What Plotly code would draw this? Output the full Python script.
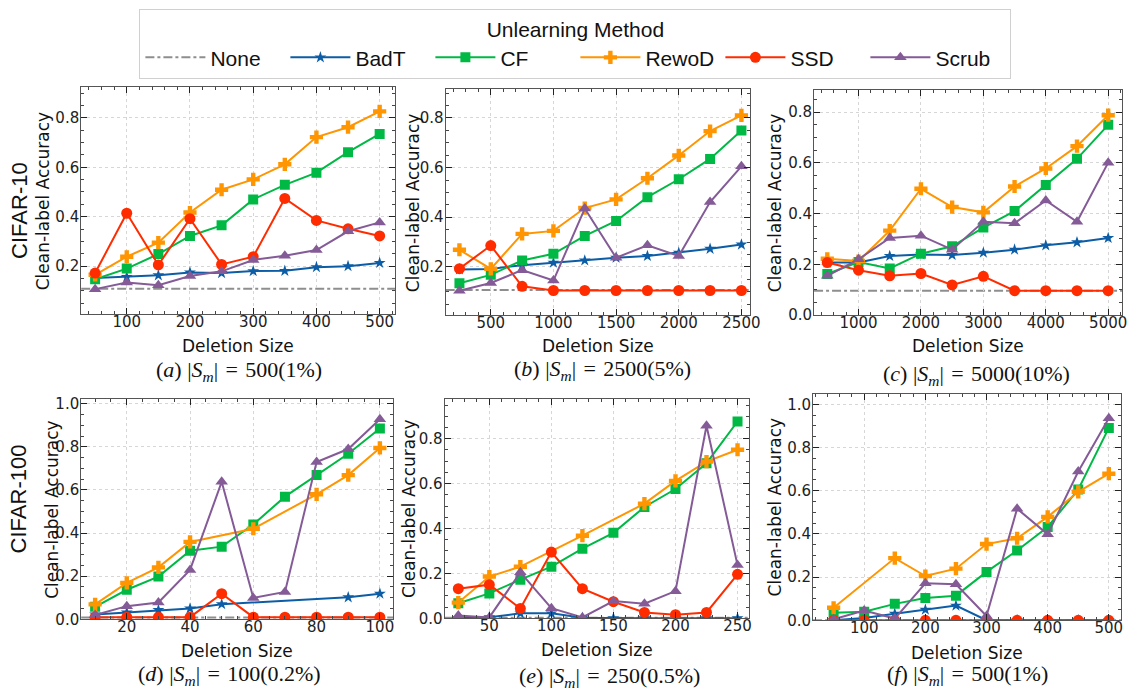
import plotly.graph_objects as go
from plotly.subplots import make_subplots

# ---------------- data ----------------
METHODS = ["BadT", "CF", "RewoD", "SSD", "Scrub"]

# (a) CIFAR-10, |S_m| = 500
A_X = [50, 100, 150, 200, 250, 300, 350, 400, 450, 500]
A_BADT = [0.152, 0.156, 0.163, 0.174, 0.172, 0.180, 0.181, 0.196, 0.200, 0.213]
A_CF = [0.147, 0.190, 0.249, 0.322, 0.365, 0.470, 0.529, 0.578, 0.661, 0.735]
A_REWOD = [0.165, 0.238, 0.295, 0.417, 0.509, 0.551, 0.612, 0.722, 0.762, 0.826]
A_SSD = [0.172, 0.414, 0.205, 0.392, 0.207, 0.238, 0.474, 0.385, 0.351, 0.322]
A_SCRUB = [0.107, 0.134, 0.123, 0.160, 0.179, 0.225, 0.242, 0.265, 0.341, 0.377]
A_NONE = 0.109

# (b) CIFAR-10, |S_m| = 2500
B_X = [250, 500, 750, 1000, 1250, 1500, 1750, 2000, 2250, 2500]
B_BADT = [0.190, 0.192, 0.207, 0.217, 0.226, 0.237, 0.244, 0.257, 0.273, 0.290]
B_CF = [0.134, 0.168, 0.226, 0.253, 0.325, 0.385, 0.481, 0.553, 0.635, 0.749]
B_REWOD = [0.269, 0.192, 0.333, 0.345, 0.437, 0.472, 0.557, 0.649, 0.747, 0.810]
B_SSD = [0.193, 0.286, 0.122, 0.105, 0.105, 0.105, 0.105, 0.105, 0.105, 0.105]
B_SCRUB = [0.104, 0.135, 0.187, 0.145, 0.435, 0.237, 0.287, 0.244, 0.461, 0.605]
B_NONE = 0.107

# (c) CIFAR-10, |S_m| = 5000
C_X = [500, 1000, 1500, 2000, 2500, 3000, 3500, 4000, 4500, 5000]
C_BADT = [0.207, 0.207, 0.233, 0.239, 0.237, 0.246, 0.258, 0.275, 0.287, 0.304]
C_CF = [0.162, 0.209, 0.184, 0.242, 0.271, 0.345, 0.410, 0.513, 0.616, 0.750]
C_REWOD = [0.222, 0.213, 0.333, 0.498, 0.426, 0.405, 0.507, 0.578, 0.666, 0.788]
C_SSD = [0.207, 0.177, 0.155, 0.164, 0.119, 0.153, 0.096, 0.096, 0.096, 0.096]
C_SCRUB = [0.155, 0.220, 0.304, 0.313, 0.258, 0.368, 0.362, 0.452, 0.368, 0.601]
C_NONE = 0.096

# (d) CIFAR-100, |S_m| = 100
D_X = [10, 20, 30, 40, 50, 60, 70, 80, 90, 100]
D_BADT = [0.022, 0.032, 0.043, 0.050, 0.070, None, None, None, 0.102, 0.119]
D_CF = [0.058, 0.137, 0.198, 0.318, 0.337, 0.440, 0.569, 0.669, 0.768, 0.885]
D_REWOD = [0.069, 0.169, 0.241, 0.359, None, 0.420, None, 0.580, 0.669, 0.795]
D_SSD = [0.010, 0.010, 0.010, 0.010, 0.119, 0.010, 0.010, 0.010, 0.010, 0.010]
D_SCRUB = [0.020, 0.061, 0.078, 0.229, 0.638, 0.099, 0.127, 0.730, 0.790, 0.928]
D_NONE = 0.008

# (e) CIFAR-100, |S_m| = 250
E_X = [25, 50, 75, 100, 125, 150, 175, 200, 225, 250]
E_BADT = [0.000, 0.005, 0.022, 0.022, 0.002, 0.000, 0.000, 0.000, 0.000, 0.000]
E_CF = [0.067, 0.111, 0.172, 0.230, 0.310, 0.381, 0.496, 0.576, 0.691, 0.877]
E_REWOD = [0.070, 0.186, 0.230, None, 0.368, None, 0.511, 0.612, 0.698, 0.751]
E_SSD = [0.132, 0.150, 0.044, 0.295, 0.132, 0.074, 0.026, 0.016, 0.026, 0.196]
E_SCRUB = [0.012, 0.004, 0.205, 0.045, 0.004, 0.077, 0.065, 0.121, 0.858, 0.237]
E_NONE = 0.002

# (f) CIFAR-100, |S_m| = 500
F_X = [50, 100, 150, 200, 250, 300, 350, 400, 450, 500]
F_BADT = [0.000, 0.010, 0.030, 0.049, 0.068, 0.000, 0.000, 0.000, 0.000, 0.000]
F_CF = [0.035, 0.040, 0.076, 0.103, 0.114, 0.224, 0.323, 0.432, 0.606, 0.891]
F_REWOD = [0.058, None, 0.288, 0.205, 0.239, 0.353, 0.380, 0.479, 0.595, 0.679]
F_SSD = [0.000, 0.000, 0.000, 0.000, 0.000, 0.000, 0.000, 0.000, 0.000, 0.000]
F_SCRUB = [0.005, 0.045, 0.008, 0.171, 0.167, 0.020, 0.517, 0.398, 0.689, 0.936]
F_NONE = 0.000

SP = "&#8196;"
CAPTIONS = [
    f"(<i>a</i>) |<i>S</i><sub><i>m</i></sub>|{SP}={SP}500(1%)",
    f"(<i>b</i>) |<i>S</i><sub><i>m</i></sub>|{SP}={SP}2500(5%)",
    f"(<i>c</i>) |<i>S</i><sub><i>m</i></sub>|{SP}={SP}5000(10%)",
    f"(<i>d</i>) |<i>S</i><sub><i>m</i></sub>|{SP}={SP}100(0.2%)",
    f"(<i>e</i>) |<i>S</i><sub><i>m</i></sub>|{SP}={SP}250(0.5%)",
    f"(<i>f</i>) |<i>S</i><sub><i>m</i></sub>|{SP}={SP}500(1%)",
]
ROW_LABELS = ["CIFAR-10", "CIFAR-100"]
X_TITLE = "Deletion Size"
Y_TITLE = "Clean-label Accuracy"

# ---------------- styling ----------------
W, H = 1139, 696
COLORS = {"BadT": "#0C5DA5", "CF": "#00B945", "RewoD": "#FF9500",
          "SSD": "#FF2C00", "Scrub": "#845B97"}
SYMBOLS = {"BadT": "star", "CF": "square", "RewoD": "cross",
           "SSD": "circle", "Scrub": "triangle-up"}
SIZES = {"BadT": 9, "CF": 10, "RewoD": 11, "SSD": 11, "Scrub": 11}
NONE_COLOR = "#8e8e8e"

panels = [
    (A_X, [A_BADT, A_CF, A_REWOD, A_SSD, A_SCRUB], A_NONE),
    (B_X, [B_BADT, B_CF, B_REWOD, B_SSD, B_SCRUB], B_NONE),
    (C_X, [C_BADT, C_CF, C_REWOD, C_SSD, C_SCRUB], C_NONE),
    (D_X, [D_BADT, D_CF, D_REWOD, D_SSD, D_SCRUB], D_NONE),
    (E_X, [E_BADT, E_CF, E_REWOD, E_SSD, E_SCRUB], E_NONE),
    (F_X, [F_BADT, F_CF, F_REWOD, F_SSD, F_SCRUB], F_NONE),
]

# pixel boxes (left, right, top, bottom)
boxes = [
    (82, 399, 85, 316),
    (450, 757, 87, 317),
    (822, 1133, 88, 317),
    (82, 397, 403, 627),
    (449, 756, 403, 626),
    (821, 1132, 397, 628),
]
xranges = [[28, 524.5], [140, 2566], [288, 5222], [5.6, 104.2], [14, 259], [16.4, 520]]
yranges = [[0.006, 0.923], [0.006, 0.915], [0, 0.886], [0, 1.02], [0, 0.975], [0, 1.05]]
xdticks = [100, 500, 1000, 20, 50, 100]
xminor = [20, 100, 200, 5, 10, 20]
ytitle_x = [43, 417, 782, 53, 413, 782]
xtitle_y = [348, 348, 348, 659, 658, 661]
cap_pos = [(241, 374), (608, 373), (986, 378), (232, 684), (615, 686), (977, 684)]

fig = make_subplots(rows=2, cols=3)

for i, (xs, series, none_val) in enumerate(panels):
    row, col = i // 3 + 1, i % 3 + 1
    for name, ys in zip(METHODS, series):
        fig.add_trace(go.Scatter(
            x=xs, y=ys, name=name, mode="lines+markers", connectgaps=True,
            legendgroup=name, showlegend=(i == 0), legendrank=2 + METHODS.index(name),
            line=dict(color=COLORS[name], width=2),
            marker=dict(symbol=SYMBOLS[name], size=SIZES[name], color=COLORS[name],
                        line=dict(width=0)),
        ), row=row, col=col)
    s = "" if i == 0 else str(i + 1)
    fig.add_shape(type="line", xref=f"x{s} domain", yref=f"y{s}", x0=0, x1=1,
                  y0=none_val, y1=none_val, layer="below",
                  line=dict(color=NONE_COLOR, width=2, dash="dashdot"))

# legend entry for "None"
fig.add_trace(go.Scatter(x=[None], y=[None], name="None", mode="lines", legendrank=1,
                         line=dict(color=NONE_COLOR, width=2, dash="dashdot")), row=1, col=1)

tickfont = dict(family="DejaVu Sans", size=15, color="#222")
for i in range(6):
    l, r, t, b = boxes[i]
    s = "" if i == 0 else str(i + 1)
    fig.layout[f"xaxis{s}"].update(
        domain=[l / W, r / W], range=xranges[i], dtick=xdticks[i], tick0=0,
        ticks="inside", ticklen=6, tickwidth=1.3, tickcolor="#222",
        showline=True, linecolor="#555", linewidth=1, mirror="ticks",
        showgrid=True, gridcolor="#d6d6d6", griddash="dot", gridwidth=1,
        zeroline=False, tickfont=tickfont, ticklabelstandoff=-6,
        minor=dict(ticks="inside", ticklen=3, tickcolor="#444", dtick=xminor[i],
                   tick0=0, showgrid=False),
    )
    fig.layout[f"yaxis{s}"].update(
        domain=[1 - b / H, 1 - t / H], range=yranges[i], dtick=0.2, tick0=0,
        tickformat=".1f",
        ticks="inside", ticklen=6, tickwidth=1.3, tickcolor="#222",
        showline=True, linecolor="#555", linewidth=1, mirror="ticks",
        showgrid=True, gridcolor="#d6d6d6", griddash="dot", gridwidth=1,
        zeroline=False, tickfont=tickfont, ticklabelstandoff=-2,
        minor=dict(ticks="inside", ticklen=3, tickcolor="#444", dtick=0.05,
                   tick0=0, showgrid=False),
    )

annotations = []
for i in range(6):
    l, r, t, b = boxes[i]
    annotations.append(dict(text=X_TITLE, x=(l + r) / 2 / W, y=1 - xtitle_y[i] / H,
                            xref="paper", yref="paper", showarrow=False,
                            xanchor="center", yanchor="middle",
                            font=dict(family="DejaVu Sans", size=17, color="#111")))
    annotations.append(dict(text=Y_TITLE, x=ytitle_x[i] / W, y=1 - (t + b) / 2 / H,
                            xref="paper", yref="paper", showarrow=False, textangle=-90,
                            xanchor="center", yanchor="middle",
                            font=dict(family="DejaVu Sans", size=17, color="#111")))
    cx, cy = cap_pos[i]
    annotations.append(dict(text=CAPTIONS[i], x=cx / W, y=1 - cy / H,
                            xref="paper", yref="paper", showarrow=False,
                            xanchor="center", yanchor="middle",
                            font=dict(family="Liberation Serif", size=22, color="#111")))
for lbl, cy in zip(ROW_LABELS, [210, 504]):
    annotations.append(dict(text=lbl, x=19 / W, y=1 - cy / H, xref="paper", yref="paper",
                            showarrow=False, textangle=-90, xanchor="center", yanchor="middle",
                            font=dict(family="Liberation Sans", size=22, color="#111")))

fig.update_layout(
    width=W, height=H, margin=dict(l=0, r=0, t=0, b=0),
    paper_bgcolor="white", plot_bgcolor="white",
    annotations=annotations,
    legend=dict(orientation="h", x=581 / W, xanchor="center", y=1 - 5 / H, yanchor="top",
                title=dict(text="Unlearning Method", side="top center",
                           font=dict(family="Liberation Sans", size=21, color="#111")),
                font=dict(family="Liberation Sans", size=21, color="#111"),
                bordercolor="#d0d0d0", borderwidth=1, bgcolor="white",
                itemwidth=60, entrywidthmode="pixels", entrywidth=70,
                traceorder="normal"),
)

fig.write_html("out.html")
